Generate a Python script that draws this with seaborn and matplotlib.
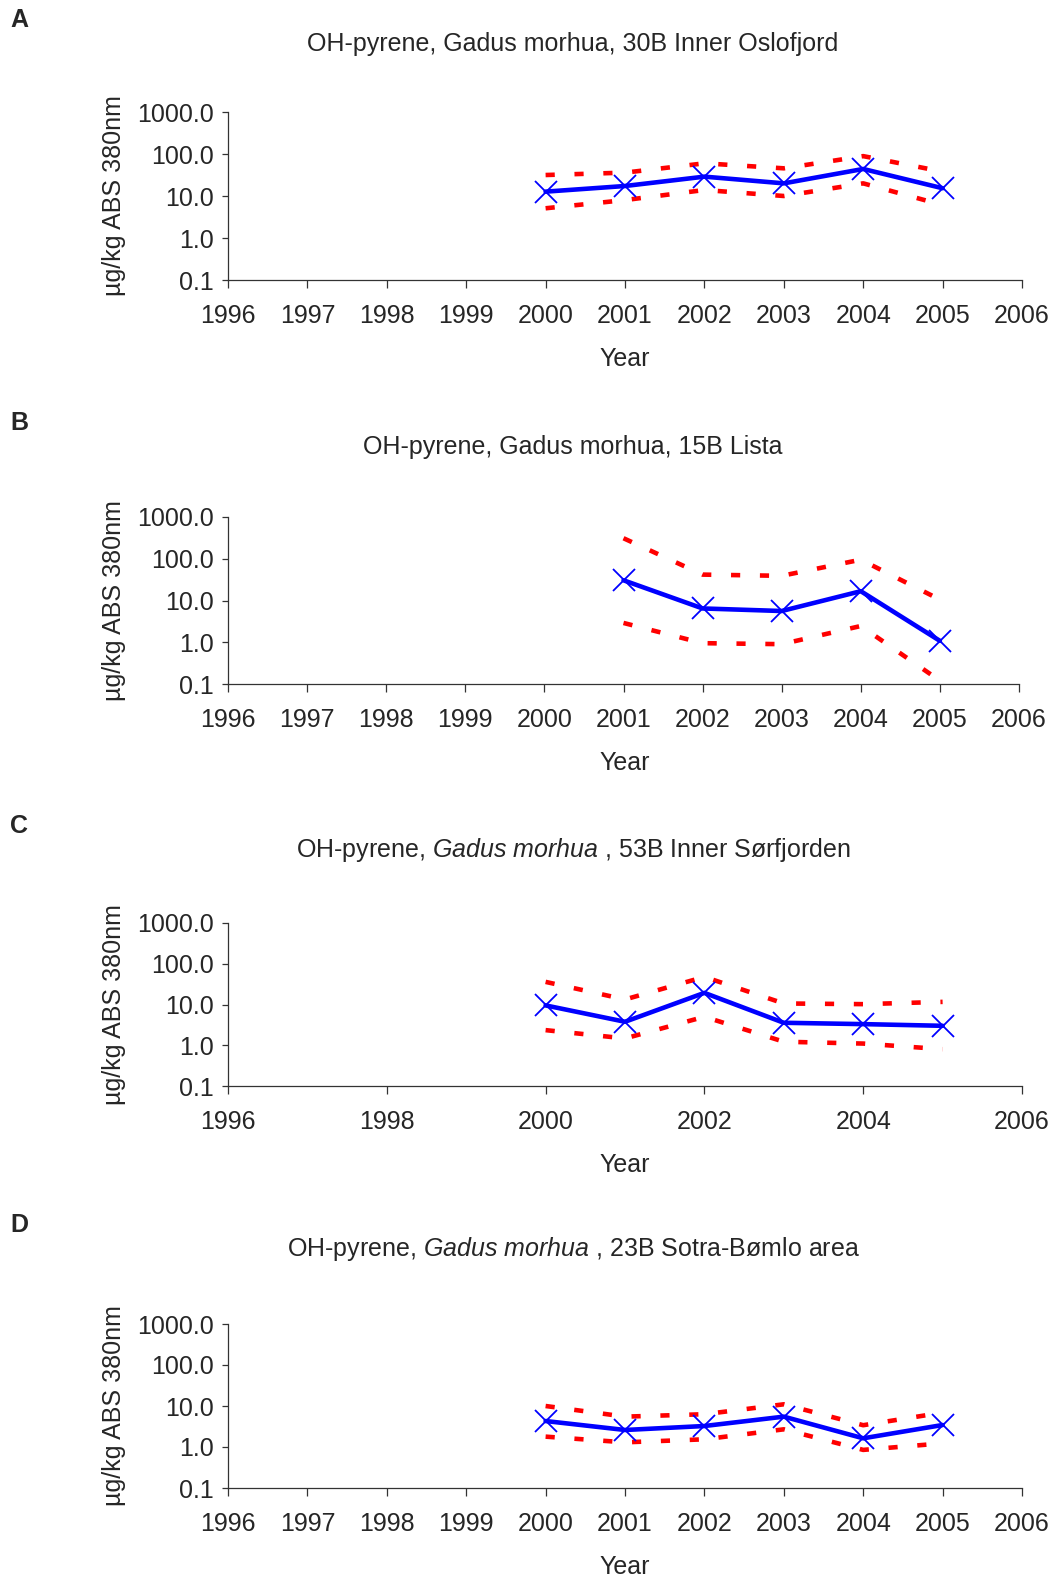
import matplotlib
matplotlib.use("Agg")
import matplotlib.pyplot as plt
import seaborn as sns
import pandas as pd

# ---------------- data ----------------
years_a = [2000, 2001, 2002, 2003, 2004, 2005]
mean_a = [12.7, 17.3, 28.9, 20.0, 44.0, 15.3]
upper_a = [31.6, 36.0, 60.0, 45.6, 89.0, 38.0]
lower_a = [5.1, 8.0, 13.9, 10.0, 20.0, 6.1]

years_b = [2001, 2002, 2003, 2004, 2005]
mean_b = [30.5, 6.45, 5.6, 16.7, 1.08]
upper_b = [310.0, 41.7, 39.0, 95.0, 10.5]
lower_b = [2.9, 0.95, 0.9, 2.45, 0.12]

years_c = [2000, 2001, 2002, 2003, 2004, 2005]
mean_c = [9.5, 3.77, 19.3, 3.56, 3.3, 3.0]
upper_c = [35.9, 13.3, 47.6, 10.6, 10.2, 11.6]
lower_c = [2.35, 1.47, 5.0, 1.22, 1.1, 0.8]

years_d = [2000, 2001, 2002, 2003, 2004, 2005]
mean_d = [4.3, 2.6, 3.25, 5.5, 1.63, 3.44]
upper_d = [10.0, 5.5, 6.3, 11.0, 3.4, 6.9]
lower_d = [1.79, 1.3, 1.54, 2.7, 0.85, 1.23]

titles = [
    "OH-pyrene, Gadus morhua, 30B Inner Oslofjord",
    "OH-pyrene, Gadus morhua, 15B Lista",
    r"OH-pyrene, $\mathit{Gadus\ morhua}$ , 53B Inner Sørfjorden",
    r"OH-pyrene, $\mathit{Gadus\ morhua}$ , 23B Sotra-Bømlo area",
]
letters = ["A", "B", "C", "D"]
ytick_vals = [0.1, 1, 10, 100, 1000]
ytick_labels = ["0.1", "1.0", "10.0", "100.0", "1000.0"]
xticks_yearly = list(range(1996, 2007))
xticks_biyearly = list(range(1996, 2007, 2))
ylabel = "µg/kg ABS 380nm"
xlabel = "Year"

# ---------------- style ----------------
sns.set_style("ticks")
plt.rcParams["font.family"] = ["Liberation Sans", "DejaVu Sans"]
plt.rcParams["mathtext.fontset"] = "custom"
plt.rcParams["mathtext.rm"] = "Liberation Sans"
plt.rcParams["mathtext.it"] = "Liberation Sans:italic"

FS = 18
W, H = 1060, 1576
fig = plt.figure(figsize=(W / 100, H / 100), dpi=100)

# axes pixel boxes: left, right, top, bottom
boxes = [
    (228, 1022, 112, 280),
    (228, 1019, 517, 684),
    (228, 1022, 923, 1086),
    (228, 1022, 1324, 1488),
]
title_y = [44, 447, 850, 1249]
letter_y = [20, 423, 826, 1225]
year_y_offset = 67  # px from axis bottom to top of "Year"

panels = [
    (years_a, mean_a, upper_a, lower_a, xticks_yearly),
    (years_b, mean_b, upper_b, lower_b, xticks_yearly),
    (years_c, mean_c, upper_c, lower_c, xticks_biyearly),
    (years_d, mean_d, upper_d, lower_d, xticks_yearly),
]

for i, (yrs, mean, up, lo, xt) in enumerate(panels):
    l, r, t, b = boxes[i]
    ax = fig.add_axes([l / W, 1 - b / H, (r - l) / W, (b - t) / H])
    df = pd.DataFrame({"Year": yrs, "mean": mean, "upper": up, "lower": lo})
    for col in ["upper", "lower"]:
        sns.lineplot(data=df, x="Year", y=col, ax=ax, color="#ff0000",
                     linewidth=3.3, linestyle=(0, (2.0, 4.3)),
                     dash_capstyle="butt", errorbar=None, zorder=2)
    sns.lineplot(data=df, x="Year", y="mean", ax=ax, color="#0000ff",
                 linewidth=3.3, marker="x", markersize=16.5,
                 markeredgewidth=1.3, markeredgecolor="#0000ff",
                 markerfacecolor="#0000ff",
                 errorbar=None, zorder=3)
    ax.set_yscale("log")
    ax.set_ylim(0.1, 1000)
    ax.set_xlim(1996, 2006)
    ax.set_yticks(ytick_vals)
    ax.set_yticklabels(ytick_labels)
    ax.minorticks_off()
    ax.set_xticks(xt)
    ax.set_xticklabels([str(v) for v in xt])
    ax.tick_params(axis="both", labelsize=FS, width=0.9,
                   color="#333333", direction="out")
    ax.tick_params(axis="x", length=5.5, pad=12)
    ax.tick_params(axis="y", length=4, pad=6)
    sns.despine(ax=ax)
    for s in ["left", "bottom"]:
        ax.spines[s].set_color("#333333")
        ax.spines[s].set_linewidth(0.9)
    ax.set_ylabel(ylabel, fontsize=FS)
    ax.yaxis.set_label_coords((126 - l) / (r - l), 0.5)
    ax.set_xlabel(xlabel, fontsize=FS)
    ax.xaxis.set_label_coords((625 - l) / (r - l), -year_y_offset / (b - t))
    fig.text(573 / W, 1 - title_y[i] / H, titles[i], fontsize=FS,
             ha="center", va="center")
    fig.text(10 / W, 1 - letter_y[i] / H, letters[i], fontsize=FS,
             fontweight="bold", ha="left", va="center")

fig.savefig("out.png", dpi=100)
